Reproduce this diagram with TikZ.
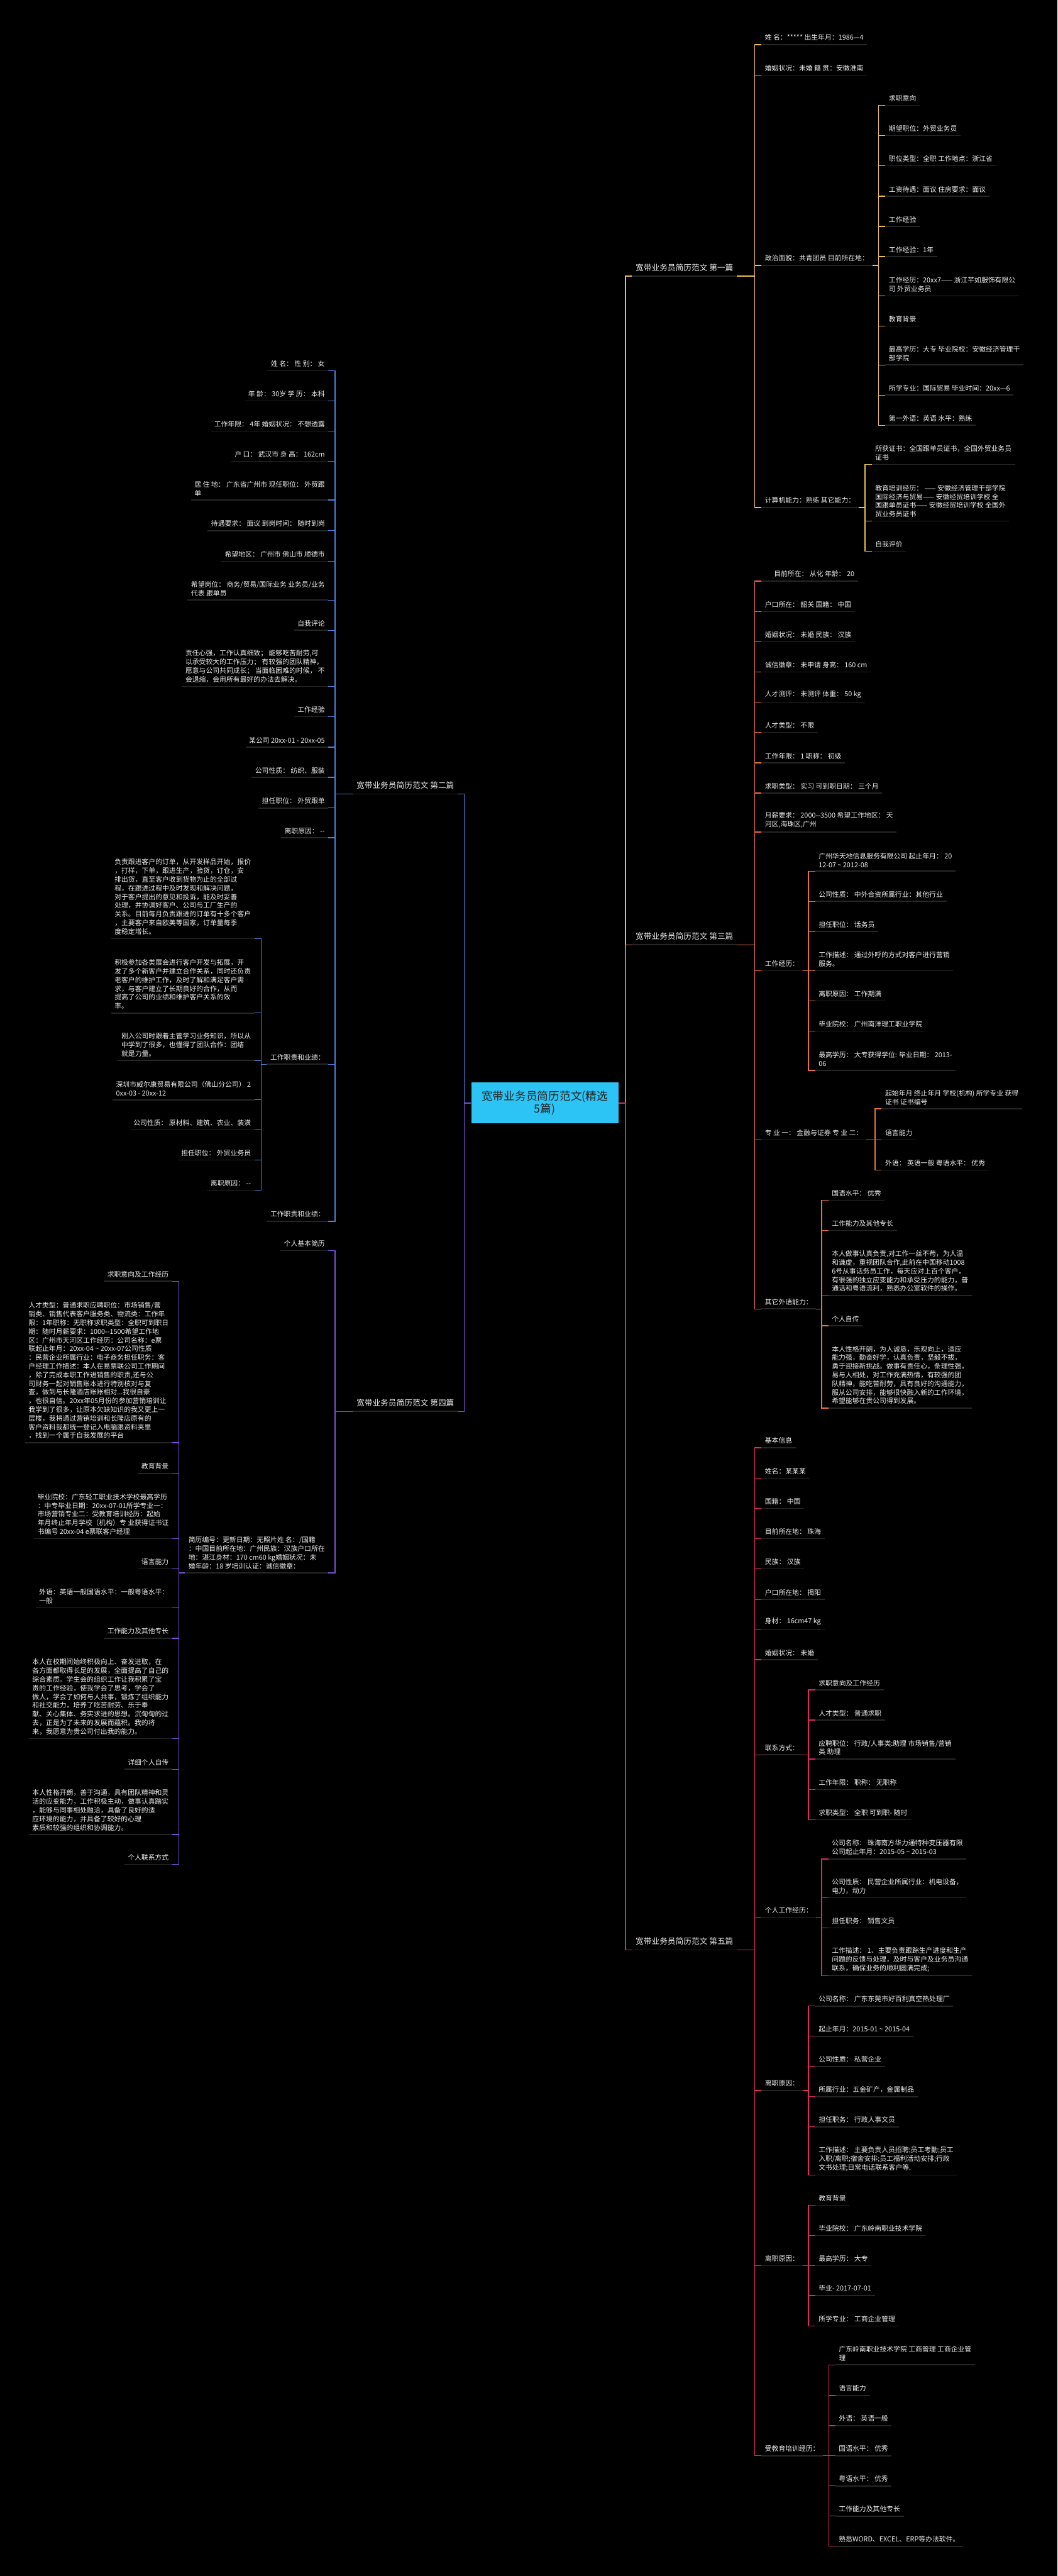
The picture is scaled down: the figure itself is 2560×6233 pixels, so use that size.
\documentclass[tikz,border=0pt]{standalone}
\usepackage{fontspec}
\setmainfont{Noto Sans CJK SC}
\usepackage{tikz}
\usetikzlibrary{calc,positioning}
\definecolor{gold}{HTML}{EDBE4C}
\definecolor{bluel}{HTML}{4D7FDB}
\definecolor{orangel}{HTML}{E9703C}
\definecolor{purplel}{HTML}{7A4FD6}
\definecolor{crimsonl}{HTML}{E0285F}
\definecolor{ulgray}{HTML}{262626}
\definecolor{txt}{HTML}{EEEEEE}
\definecolor{rootcyan}{HTML}{2CC4F4}
\tikzset{
  leaf/.style={text=txt, font=\fontsize{4.95}{6.3}\selectfont, align=left,
    inner xsep=2.4pt, inner ysep=2.6pt,
    append after command={(\tikzlastnode.south west) edge[ulgray, line width=0.75pt] (\tikzlastnode.south east)}},
  rleaf/.style={leaf, anchor=south west},
  lleaf/.style={leaf, anchor=south east},
  branch/.style={leaf, font=\fontsize{5.8}{7}\selectfont, inner ysep=3.2pt},
  rootbox/.style={fill=rootcyan, text=black!85, font=\fontsize{8.1}{9}\selectfont,
    align=center, minimum width=106.8pt, minimum height=29.7pt, inner sep=0pt},
  link/.style={line width=0.6pt}
}
\begin{document}
\begin{tikzpicture}[x=0.3pt,y=-0.3pt]
\fill[black] (0,0) rectangle (2560,6233);
\useasboundingbox (0,0) rectangle (2560,6233);
%
\node[rootbox] (root) at (1319,2669) {宽带业务员简历范文(精选\\5篇)};
\node[branch, anchor=south west] (b1) at (1530,668) {宽带业务员简历范文 第一篇};
\node[branch, anchor=south east] (b2) at (1108,1921) {宽带业务员简历范文 第二篇};
\node[branch, anchor=south west] (b3) at (1530,2286) {宽带业务员简历范文 第三篇};
\node[branch, anchor=south east] (b4) at (1108,3415) {宽带业务员简历范文 第四篇};
\node[branch, anchor=south west] (b5) at (1530,4718) {宽带业务员简历范文 第五篇};
\draw[link,gold] (root.east) -| ([xshift=-4.8pt]b1.south west) -- (b1.south west);
\draw[link,orangel] (root.east) -| ([xshift=-4.8pt]b3.south west) -- (b3.south west);
\draw[link,crimsonl] (root.east) -| ([xshift=-4.8pt]b5.south west) -- (b5.south west);
\draw[link,bluel] (root.west) -| ([xshift=4.8pt]b2.south east) -- (b2.south east);
\draw[link,purplel] (root.west) -| ([xshift=4.8pt]b4.south east) -- (b4.south east);
%
% first resume
%
\node[rleaf] (b1a) at (1843,108) {姓 名：***** 出生年月：1986—4};
\node[rleaf] (b1b) at (1843,182) {婚姻状况：未婚 籍 贯：安徽淮南};
\node[rleaf] (b1c) at (1843,642) {政治面貌：共青团员 目前所在地：};
\node[rleaf] (b1d) at (1843,1228) {计算机能力：熟练 其它能力：};
\node[rleaf] (b1c1) at (2143,255) {求职意向};
\node[rleaf] (b1c2) at (2143,328) {期望职位：外贸业务员};
\node[rleaf] (b1c3) at (2143,401) {职位类型：全职 工作地点：浙江省};
\node[rleaf] (b1c4) at (2143,475) {工资待遇：面议 住房要求：面议};
\node[rleaf] (b1c5) at (2143,548) {工作经验};
\node[rleaf] (b1c6) at (2143,621) {工作经验：1年};
\node[rleaf] (b1c7) at (2143,716) {工作经历：20xx7—— 浙江芊如服饰有限公\\司 外贸业务员};
\node[rleaf] (b1c8) at (2143,789) {教育背景};
\node[rleaf] (b1c9) at (2143,883) {最高学历：大专 毕业院校：安徽经济管理干\\部学院};
\node[rleaf] (b1c10) at (2143,956) {所学专业：国际贸易 毕业时间：20xx—6};
\node[rleaf] (b1c11) at (2143,1029) {第一外语：英语 水平：熟练};
\node[rleaf] (b1d1) at (2110,1124) {所获证书：全国跟单员证书，全国外贸业务员\\证书};
\node[rleaf] (b1d2) at (2110,1261) {教育培训经历： —— 安徽经济管理干部学院\\ 国际经济与贸易—— 安徽经贸培训学校 全\\国跟单员证书—— 安徽经贸培训学校 全国外\\贸业务员证书};
\node[rleaf] (b1d3) at (2110,1334) {自我评价};
\foreach \n in {b1a,b1b,b1c,b1d}
  \draw[link,gold] (b1.south east) -| ([xshift=-4.8pt]\n.south west) -- (\n.south west);
\foreach \n in {b1c1,b1c2,b1c3,b1c4,b1c5,b1c6,b1c7,b1c8,b1c9,b1c10,b1c11}
  \draw[link,gold] (b1c.south east) -| ([xshift=-4.8pt]\n.south west) -- (\n.south west);
\foreach \n in {b1d1,b1d2,b1d3}
  \draw[link,gold] (b1d.south east) -| ([xshift=-4.8pt]\n.south west) -- (\n.south west);
%
% second resume
%
\node[lleaf] (b2a) at (795,897) {姓 名： 性 别： 女};
\node[lleaf] (b2b) at (795,970) {年 龄： 30岁 学 历： 本科};
\node[lleaf] (b2c) at (795,1043) {工作年限： 4年 婚姻状况： 不想透露};
\node[lleaf] (b2d) at (795,1116) {户 口： 武汉市 身 高： 162cm};
\node[lleaf] (b2e) at (795,1210) {居 住 地： 广东省广州市 现任职位： 外贸跟\\单};
\node[lleaf] (b2f) at (795,1284) {待遇要求： 面议 到岗时间： 随时到岗};
\node[lleaf] (b2g) at (795,1358) {希望地区： 广州市 佛山市 顺德市};
\node[lleaf] (b2h) at (795,1452) {希望岗位： 商务/贸易/国际业务 业务员/业务\\代表 跟单员};
\node[lleaf] (b2i) at (795,1525) {自我评论};
\node[lleaf] (b2j) at (795,1661) {责任心强，工作认真细致； 能够吃苦耐劳,可\\以承受较大的工作压力； 有较强的团队精神，\\愿意与公司共同成长； 当面临困难的时候， 不\\会退缩，会用所有最好的办法去解决。};
\node[lleaf] (b2k) at (795,1734) {工作经验};
\node[lleaf] (b2l) at (795,1808) {某公司 20xx-01 - 20xx-05};
\node[lleaf] (b2m) at (795,1881) {公司性质： 纺织、服装};
\node[lleaf] (b2n) at (795,1955) {担任职位： 外贸跟单};
\node[lleaf] (b2o) at (795,2027) {离职原因： -{}-};
\node[lleaf] (b2p) at (795,2575) {工作职责和业绩：};
\node[lleaf] (b2q) at (795,2955) {工作职责和业绩：};
\node[lleaf] (b2p1) at (616,2271) {负责跟进客户的订单，从开发样品开始，报价\\，打样，下单，跟进生产，验货，订仓，安\\排出货，直至客户收到货物为止的全部过\\程，在跟进过程中及时发现和解决问题，\\对于客户提出的意见和投诉，能及时妥善\\处理，并协调好客户、公司与工厂生产的\\关系。目前每月负责跟进的订单有十多个客户\\，主要客户来自欧美等国家，订单量每季\\度稳定增长。};
\node[lleaf] (b2p2) at (616,2451) {积极参加各类展会进行客户开发与拓展，开\\发了多个新客户并建立合作关系，同时还负责\\老客户的维护工作，及时了解和满足客户需\\求，与客户建立了长期良好的合作，从而\\提高了公司的业绩和维护客户关系的效\\率。};
\node[lleaf] (b2p3) at (616,2566) {刚入公司时跟着主管学习业务知识，所以从\\中学到了很多，也懂得了团队合作：团结\\就是力量。};
\node[lleaf] (b2p4) at (616,2661) {深圳市威尔康贸易有限公司（佛山分公司） 2\\0xx-03 - 20xx-12};
\node[lleaf] (b2p5) at (616,2734) {公司性质： 原材料、建筑、农业、装潢};
\node[lleaf] (b2p6) at (616,2807) {担任职位： 外贸业务员};
\node[lleaf] (b2p7) at (616,2880) {离职原因： -{}-};
\foreach \n in {b2a,b2b,b2c,b2d,b2e,b2f,b2g,b2h,b2i,b2j,b2k,b2l,b2m,b2n,b2o,b2p,b2q}
  \draw[link,bluel] (b2.south west) -| ([xshift=4.8pt]\n.south east) -- (\n.south east);
\foreach \n in {b2p1,b2p2,b2p3,b2p4,b2p5,b2p6,b2p7}
  \draw[link,bluel] (b2p.south west) -| ([xshift=4.8pt]\n.south east) -- (\n.south east);
%
% third resume
%
\node[rleaf] (b3a) at (1843,1406) {\hspace*{6.6pt}目前所在： 从化 年龄： 20};
\node[rleaf] (b3b) at (1843,1480) {户口所在： 韶关 国籍： 中国};
\node[rleaf] (b3c) at (1843,1553) {婚姻状况： 未婚 民族： 汉族};
\node[rleaf] (b3d) at (1843,1626) {诚信徽章： 未申请 身高： 160 cm};
\node[rleaf] (b3e) at (1843,1699) {人才测评： 未测评 体重： 50 kg};
\node[rleaf] (b3f) at (1843,1772) {人才类型： 不限};
\node[rleaf] (b3g) at (1843,1846) {工作年限： 1 职称： 初级};
\node[rleaf] (b3h) at (1843,1919) {求职类型： 实习 可到职日期： 三个月};
\node[rleaf] (b3i) at (1843,2013) {月薪要求： 2000-{}-3500 希望工作地区： 天\\河区,海珠区,广州};
\node[rleaf] (b3j) at (1843,2349) {工作经历：};
\node[rleaf] (b3k) at (1843,2758) {专 业 一： 金融与证券 专 业 二：};
\node[rleaf] (b3l) at (1843,3167) {其它外语能力：};
\node[rleaf] (b3j1) at (1973,2108) {广州华天地信息服务有限公司 起止年月： 20\\12-07 \textasciitilde\ 2012-08};
\node[rleaf] (b3j2) at (1973,2181) {公司性质： 中外合资所属行业：其他行业};
\node[rleaf] (b3j3) at (1973,2254) {担任职位： 话务员};
\node[rleaf] (b3j4) at (1973,2349) {工作描述： 通过外呼的方式对客户进行营销\\服务。};
\node[rleaf] (b3j5) at (1973,2422) {离职原因： 工作期满};
\node[rleaf] (b3j6) at (1973,2495) {毕业院校： 广州南洋理工职业学院};
\node[rleaf] (b3j7) at (1973,2590) {最高学历： 大专获得学位: 毕业日期： 2013-\\06};
\node[rleaf] (b3k1) at (2134,2683) {起始年月 终止年月 学校(机构) 所学专业 获得\\证书 证书编号};
\node[rleaf] (b3k2) at (2134,2758) {语言能力};
\node[rleaf] (b3k3) at (2134,2831) {外语： 英语一般 粤语水平： 优秀};
\node[rleaf] (b3l1) at (2005,2904) {国语水平： 优秀};
\node[rleaf] (b3l2) at (2005,2977) {工作能力及其他专长};
\node[rleaf] (b3l3) at (2005,3135) {本人做事认真负责,对工作一丝不苟，为人温\\和谦虚，重视团队合作,此前在中国移动1008\\6号从事话务员工作，每天应对上百个客户，\\有很强的独立应变能力和承受压力的能力，普\\通话和粤语流利，熟悉办公室软件的操作。};
\node[rleaf] (b3l4) at (2005,3208) {个人自传};
\node[rleaf] (b3l5) at (2005,3407) {本人性格开朗，为人诚恳，乐观向上，适应\\能力强，勤奋好学，认真负责，坚毅不拔，\\勇于迎接新挑战。做事有责任心，条理性强，\\易与人相处，对工作充满热情，有较强的团\\队精神，能吃苦耐劳，具有良好的沟通能力，\\服从公司安排，能够很快融入新的工作环境，\\希望能够在贵公司得到发展。};
\foreach \n in {b3a,b3b,b3c,b3d,b3e,b3f,b3g,b3h,b3i,b3j,b3k,b3l}
  \draw[link,orangel] (b3.south east) -| ([xshift=-4.8pt]\n.south west) -- (\n.south west);
\foreach \n in {b3j1,b3j2,b3j3,b3j4,b3j5,b3j6,b3j7}
  \draw[link,orangel] (b3j.south east) -| ([xshift=-4.8pt]\n.south west) -- (\n.south west);
\foreach \n in {b3k1,b3k2,b3k3}
  \draw[link,orangel] (b3k.south east) -| ([xshift=-4.8pt]\n.south west) -- (\n.south west);
\foreach \n in {b3l1,b3l2,b3l3,b3l4,b3l5}
  \draw[link,orangel] (b3l.south east) -| ([xshift=-4.8pt]\n.south west) -- (\n.south west);
%
% fourth resume
%
\node[lleaf] (b4a) at (795,3026) {个人基本简历};
\node[lleaf] (b4b) at (795,3806) {简历编号：更新日期：无照片姓 名：/国籍\\：中国目前所在地：广州民族：汉族户口所在\\地：湛江身材：170 cm60 kg婚姻状况：未\\婚年龄：18 岁培训认证：诚信徽章：};
\node[lleaf] (b4b1) at (417,3100) {求职意向及工作经历};
\node[lleaf] (b4b2) at (417,3491) {人才类型：普通求职应聘职位：市场销售/营\\销类、销售代表客户服务类、物流类：工作年\\限：1年职称：无职称求职类型：全职可到职日\\期：随时月薪要求：1000-{}-1500希望工作地\\区：广州市天河区工作经历：公司名称：e票\\联起止年月：20xx-04 \textasciitilde\ 20xx-07公司性质\\：民营企业所属行业：电子商务担任职务：客\\户经理工作描述：本人在易票联公司工作期间\\，除了完成本职工作进销售的职责,还与公\\司财务一起对销售账本进行特别核对与复\\查，做到与长隆酒店账账相对...我很自豪\\，也很自信。20xx年05月份的参加营销培训让\\我学到了很多，让原本欠缺知识的我又更上一\\层楼，我将通过营销培训和长隆店原有的\\客户资料我都统一登记入电脑跟资料夹里\\，找到一个属于自我发展的平台};
\node[lleaf] (b4b3) at (417,3565) {教育背景};
\node[lleaf] (b4b4) at (417,3723) {毕业院校：广东轻工职业技术学校最高学历\\：中专毕业日期：20xx-07-01所学专业一：\\市场营销专业二：受教育培训经历：起始\\年月终止年月学校（机构）专 业获得证书证\\书编号 20xx-04 e票联客户经理};
\node[lleaf] (b4b5) at (417,3796) {语言能力};
\node[lleaf] (b4b6) at (417,3890) {外语：英语一般国语水平：一般粤语水平：\\一般};
\node[lleaf] (b4b7) at (417,3964) {工作能力及其他专长};
\node[lleaf] (b4b8) at (417,4207) {本人在校期间始终积极向上、奋发进取，在\\各方面都取得长足的发展，全面提高了自己的\\综合素质。学生会的组织工作让我积累了宝\\贵的工作经验，使我学会了思考，学会了\\做人，学会了如何与人共事，锻炼了组织能力\\和社交能力，培养了吃苦耐劳、乐于奉\\献、关心集体、务实求进的思想。沉甸甸的过\\去，正是为了未来的发展而蕴积。我的将\\来，我愿意为贵公司付出我的能力。};
\node[lleaf] (b4b9) at (417,4281) {详细个人自传};
\node[lleaf] (b4b10) at (417,4439) {本人性格开朗，善于沟通，具有团队精神和灵\\活的应变能力，工作积极主动，做事认真踏实\\，能够与同事相处融洽，具备了良好的适\\应环境的能力，并具备了较好的心理\\素质和较强的组织和协调能力。};
\node[lleaf] (b4b11) at (417,4511) {个人联系方式};
\foreach \n in {b4a,b4b}
  \draw[link,purplel] (b4.south west) -| ([xshift=4.8pt]\n.south east) -- (\n.south east);
\foreach \n in {b4b1,b4b2,b4b3,b4b4,b4b5,b4b6,b4b7,b4b8,b4b9,b4b10,b4b11}
  \draw[link,purplel] (b4b.south west) -| ([xshift=4.8pt]\n.south east) -- (\n.south east);
%
% fifth resume
%
\node[rleaf] (b5a) at (1843,3503) {基本信息};
\node[rleaf] (b5b) at (1843,3577) {姓名：某某某};
\node[rleaf] (b5c) at (1843,3650) {国籍： 中国};
\node[rleaf] (b5d) at (1843,3723) {目前所在地： 珠海};
\node[rleaf] (b5e) at (1843,3796) {民族： 汉族};
\node[rleaf] (b5f) at (1843,3870) {户口所在地： 揭阳};
\node[rleaf] (b5g) at (1843,3942) {身材： 16cm47 kg};
\node[rleaf] (b5h) at (1843,4016) {婚姻状况： 未婚};
\node[rleaf] (b5i) at (1843,4246) {联系方式：};
\node[rleaf] (b5j) at (1843,4639) {个人工作经历：};
\node[rleaf] (b5k) at (1843,5058) {离职原因：};
\node[rleaf] (b5l) at (1843,5482) {离职原因：};
\node[rleaf] (b5m) at (1843,5942) {受教育培训经历：};
\node[rleaf] (b5i1) at (1973,4089) {求职意向及工作经历};
\node[rleaf] (b5i2) at (1973,4162) {人才类型： 普通求职};
\node[rleaf] (b5i3) at (1973,4256) {应聘职位： 行政/人事类:助理 市场销售/营销\\类 助理};
\node[rleaf] (b5i4) at (1973,4330) {工作年限： 职称： 无职称};
\node[rleaf] (b5i5) at (1973,4403) {求职类型： 全职 可到职- 随时};
\node[rleaf] (b5j1) at (2005,4498) {公司名称： 珠海南方华力通特种变压器有限\\公司起止年月：2015-05 \textasciitilde\ 2015-03};
\node[rleaf] (b5j2) at (2005,4592) {公司性质： 民营企业所属行业：机电设备，\\电力，动力};
\node[rleaf] (b5j3) at (2005,4665) {担任职务： 销售文员};
\node[rleaf] (b5j4) at (2005,4780) {工作描述： 1、主要负责跟踪生产进度和生产\\问题的反馈与处理，及时与客户及业务员沟通\\联系，确保业务的顺利圆满完成;};
\node[rleaf] (b5k1) at (1973,4854) {公司名称： 广东东莞市好百利真空热处理厂};
\node[rleaf] (b5k2) at (1973,4927) {起止年月：2015-01 \textasciitilde\ 2015-04};
\node[rleaf] (b5k3) at (1973,5000) {公司性质： 私营企业};
\node[rleaf] (b5k4) at (1973,5073) {所属行业：五金矿产，金属制品};
\node[rleaf] (b5k5) at (1973,5146) {担任职务： 行政人事文员};
\node[rleaf] (b5k6) at (1973,5263) {工作描述： 主要负责人员招聘;员工考勤;员工\\入职/离职;宿舍安排;员工福利活动安排;行政\\文书处理;日常电话联系客户等.};
\node[rleaf] (b5l1) at (1973,5336) {教育背景};
\node[rleaf] (b5l2) at (1973,5409) {毕业院校： 广东岭南职业技术学院};
\node[rleaf] (b5l3) at (1973,5482) {最高学历： 大专};
\node[rleaf] (b5l4) at (1973,5554) {毕业- 2017-07-01};
\node[rleaf] (b5l5) at (1973,5628) {所学专业： 工商企业管理};
\node[rleaf] (b5m1) at (2022,5722) {广东岭南职业技术学院 工商管理 工商企业管\\理};
\node[rleaf] (b5m2) at (2022,5796) {语言能力};
\node[rleaf] (b5m3) at (2022,5869) {外语： 英语一般};
\node[rleaf] (b5m4) at (2022,5942) {国语水平： 优秀};
\node[rleaf] (b5m5) at (2022,6015) {粤语水平： 优秀};
\node[rleaf] (b5m6) at (2022,6088) {工作能力及其他专长};
\node[rleaf] (b5m7) at (2022,6161) {熟悉WORD、EXCEL、ERP等办法软件。};
\foreach \n in {b5a,b5b,b5c,b5d,b5e,b5f,b5g,b5h,b5i,b5j,b5k,b5l,b5m}
  \draw[link,crimsonl] (b5.south east) -| ([xshift=-4.8pt]\n.south west) -- (\n.south west);
\foreach \n in {b5i1,b5i2,b5i3,b5i4,b5i5}
  \draw[link,crimsonl] (b5i.south east) -| ([xshift=-4.8pt]\n.south west) -- (\n.south west);
\foreach \n in {b5j1,b5j2,b5j3,b5j4}
  \draw[link,crimsonl] (b5j.south east) -| ([xshift=-4.8pt]\n.south west) -- (\n.south west);
\foreach \n in {b5k1,b5k2,b5k3,b5k4,b5k5,b5k6}
  \draw[link,crimsonl] (b5k.south east) -| ([xshift=-4.8pt]\n.south west) -- (\n.south west);
\foreach \n in {b5l1,b5l2,b5l3,b5l4,b5l5}
  \draw[link,crimsonl] (b5l.south east) -| ([xshift=-4.8pt]\n.south west) -- (\n.south west);
\foreach \n in {b5m1,b5m2,b5m3,b5m4,b5m5,b5m6,b5m7}
  \draw[link,crimsonl] (b5m.south east) -| ([xshift=-4.8pt]\n.south west) -- (\n.south west);
\end{tikzpicture}
\end{document}
